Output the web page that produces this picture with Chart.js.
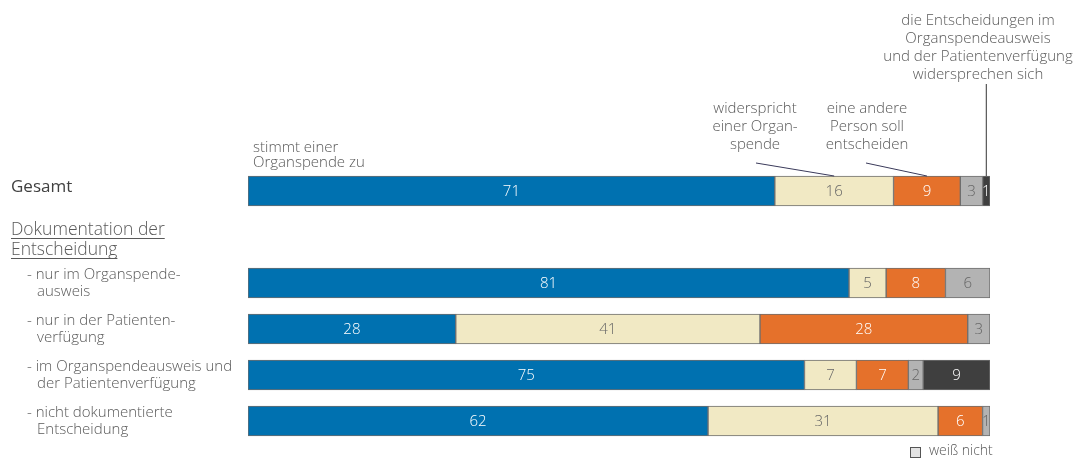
<!DOCTYPE html>
<html>
<head>
<meta charset="utf-8">
<script src="https://cdn.jsdelivr.net/npm/chart.js@4/dist/chart.umd.min.js"></script>
<style>
  html, body { margin: 0; padding: 0; background: #fff; }
  canvas { display: block; }
</style>
</head>
<body>
<canvas id="chart" width="1080" height="459"></canvas>
<script>
// rows (second row is the group header "Dokumentation der Entscheidung")
const categories = ['Gesamt', '', 'nur im Organspendeausweis', 'nur in der Patientenverfügung',
  'im Organspendeausweis und der Patientenverfügung', 'nicht dokumentierte Entscheidung'];

const zustimmung   = [71, null, 81, 28, 75, 62];
const widerspruch  = [16, null, 5, 41, 7, 31];
const anderePerson = [9, null, 8, 28, 7, 6];
const weissNicht   = [3, null, 6, 3, 2, 1];
const widersprueche = [1, null, null, null, 9, null];

const seriesNames = ['stimmt einer Organspende zu', 'widerspricht einer Organspende',
  'eine andere Person soll entscheiden', 'weiß nicht',
  'die Entscheidungen widersprechen sich'];

const rowLabels = [
  null, null,
  ['- nur im Organspende-', '  ausweis'],
  ['- nur in der Patienten-', '  verfügung'],
  ['- im Organspendeausweis und', '  der Patientenverfügung'],
  ['- nicht dokumentierte', '  Entscheidung']
];

const FONT = '"Open Sans", "DejaVu Sans", sans-serif';
const TEXT = '#595959';

const colors = ['#0071b0', '#f1e9c4', '#e5712b', '#b3b3b3', '#3f3f3f'];
const labelColors = ['#ffffff', '#666666', '#ffffff', '#666666', '#ffffff'];

const datasets = [zustimmung, widerspruch, anderePerson, weissNicht, widersprueche].map((d, i) => ({
  label: seriesNames[i],
  data: d,
  backgroundColor: colors[i],
  borderColor: '#6e6e6e',
  borderWidth: 1,
  borderSkipped: false,
  barThickness: 30
}));

const overlay = {
  id: 'overlay',
  afterDatasetsDraw(chart) {
    const ctx = chart.ctx;
    const x = chart.scales.x, y = chart.scales.y;
    ctx.save();

    // values inside the segments
    ctx.font = '300 15px ' + FONT;
    ctx.textAlign = 'center';
    ctx.textBaseline = 'middle';
    chart.data.datasets.forEach((ds, di) => {
      const meta = chart.getDatasetMeta(di);
      meta.data.forEach((bar, i) => {
        const v = ds.data[i];
        if (v == null) return;
        const p = bar.getProps(['x', 'base', 'y'], true);
        ctx.fillStyle = labelColors[di];
        ctx.fillText(String(v), (p.x + p.base) / 2, p.y + 1);
      });
    });

    // left labels
    ctx.textAlign = 'left';
    ctx.textBaseline = 'alphabetic';
    ctx.fillStyle = '#404040';
    ctx.font = '400 17px ' + FONT;
    ctx.fillText('Gesamt', 11, 192);

    ctx.fillStyle = TEXT;
    ctx.font = '300 17.5px ' + FONT;
    const hdr = ['Dokumentation der', 'Entscheidung'];
    hdr.forEach((t, k) => {
      const yy = 235 + k * 20;
      ctx.fillText(t, 11, yy);
      const w = ctx.measureText(t).width;
      ctx.fillRect(11, yy + 3, w, 1);
    });

    ctx.font = '300 15px ' + FONT;
    rowLabels.forEach((lines, i) => {
      if (!lines) return;
      const cy = y.getPixelForValue(i);
      lines.forEach((t, k) => {
        ctx.fillText(t.trim(), k === 0 ? 27 : 37, cy - 4 + k * 17);
      });
    });

    // annotations above "Gesamt"
    const top0 = y.getPixelForValue(0) - 15;
    ctx.strokeStyle = '#3a3a5a';
    ctx.lineWidth = 1;
    const seg = (a, b) => x.getPixelForValue((a + b) / 2);

    ctx.textAlign = 'left';
    ctx.fillText('stimmt einer', 253, 152);
    ctx.fillText('Organspende zu', 253, 167);

    ctx.textAlign = 'center';
    ['widerspricht', 'einer Organ-', 'spende'].forEach((t, k) => ctx.fillText(t, 755, 113 + k * 18));
    ctx.beginPath();
    ctx.moveTo(756, 163);
    ctx.lineTo(seg(71, 87), top0);
    ctx.stroke();

    ['eine andere', 'Person soll', 'entscheiden'].forEach((t, k) => ctx.fillText(t, 867, 113 + k * 18));
    ctx.beginPath();
    ctx.moveTo(866, 163);
    ctx.lineTo(seg(87, 96), top0);
    ctx.stroke();

    ['die Entscheidungen im', 'Organspendeausweis', 'und der Patientenverfügung', 'widersprechen sich']
      .forEach((t, k) => ctx.fillText(t, 978, 25 + k * 18));
    const xr = seg(99, 100);
    ctx.strokeStyle = '#333333';
    ctx.beginPath();
    ctx.moveTo(xr, 84);
    ctx.lineTo(xr, top0);
    ctx.stroke();

    // legend entry
    ctx.fillStyle = '#e3e3e3';
    ctx.fillRect(910.5, 447.5, 10, 10);
    ctx.strokeStyle = '#555555';
    ctx.strokeRect(910.5, 447.5, 10, 10);
    ctx.fillStyle = TEXT;
    ctx.textAlign = 'left';
    ctx.font = '300 14px ' + FONT;
    ctx.fillText('weiß nicht', 929, 455);

    ctx.restore();
  }
};

new Chart(document.getElementById('chart'), {
  type: 'bar',
  data: { labels: categories, datasets: datasets },
  options: {
    indexAxis: 'y',
    responsive: false,
    animation: false,
    devicePixelRatio: 1,
    layout: { padding: { left: 248, right: 90, top: 168, bottom: 15 } },
    scales: {
      x: { stacked: true, min: 0, max: 100, display: false },
      y: { stacked: true, display: false }
    },
    plugins: {
      legend: { display: false },
      tooltip: { enabled: false }
    }
  },
  plugins: [overlay]
});
</script>
</body>
</html>
